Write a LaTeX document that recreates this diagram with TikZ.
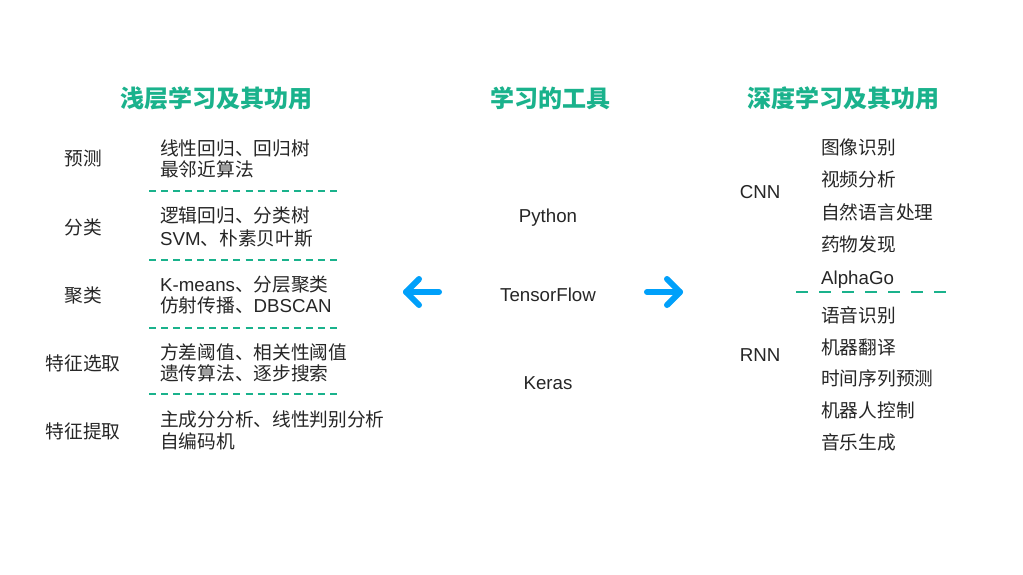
\documentclass[tikz,border=0pt]{standalone}
\usepackage{fontspec}
\setmainfont{Liberation Sans}
\newfontfamily\cjk{Noto Sans CJK SC}
\definecolor{tgreen}{RGB}{26,178,140}
\definecolor{txt}{RGB}{38,38,38}
\definecolor{ablue}{RGB}{0,160,250}
\begin{document}
\begin{tikzpicture}[x=1pt,y=-1pt,
  title/.style={font=\cjk\bfseries\fontsize{24}{28}\selectfont, text=tgreen, anchor=base, inner sep=0pt},
  cat/.style={font=\cjk\fontsize{18.7}{22}\selectfont, text=txt, anchor=base, inner sep=0pt},
  item/.style={cat, anchor=base west},
  lat/.style={font=\fontsize{18.7}{22}\selectfont, text=txt, anchor=base, inner sep=0pt},
  sepl/.style={draw=tgreen, line width=1.3pt, dash pattern=on 7pt off 5.07pt},
  sepr/.style={draw=tgreen, line width=1.3pt, dash pattern=on 11.5pt off 11.58pt},
  bigarrow/.style={draw=ablue, line width=6pt, line cap=round, line join=round}
]
\useasboundingbox[fill=white] (0,0) rectangle (1023,574);

% titles
\node[title] (t1) at (216,107) {浅层学习及其功用};
\node[title] (t2) at (550,107) {学习的工具};
\node[title] (t3) at (843,107) {深度学习及其功用};

% left column
\node[cat] (c1) at (83,165) {预测};
\node[cat] (c2) at (83,234) {分类};
\node[cat] (c3) at (83,302) {聚类};
\node[cat] (c4) at (83,370) {特征选取};
\node[cat] (c5) at (83,438) {特征提取};

\node[item] (a1) at (160,155) {线性回归、回归树};
\node[item] (a2) at (160,176) {最邻近算法};
\node[item] (b1) at (160,222) {逻辑回归、分类树};
\node[item] (b2) at (160,245) {{\rmfamily SVM}、朴素贝叶斯};
\node[item] (d1) at (160,291) {{\rmfamily K-means}、分层聚类};
\node[item] (d2) at (160,312) {仿射传播、{\rmfamily DBSCAN}};
\node[item] (e1) at (160,359) {方差阈值、相关性阈值};
\node[item] (e2) at (160,380) {遗传算法、逐步搜索};
\node[item] (f1) at (160,426) {主成分分析、线性判别分析};
\node[item] (f2) at (160,448) {自编码机};

\coordinate (s1a) at (149,191); \coordinate (s1b) at (337,191);
\coordinate (s2a) at (149,260); \coordinate (s2b) at (337,260);
\coordinate (s3a) at (149,328); \coordinate (s3b) at (337,328);
\coordinate (s4a) at (149,394); \coordinate (s4b) at (337,394);
\draw[sepl] (s1a) -- (s1b);
\draw[sepl] (s2a) -- (s2b);
\draw[sepl] (s3a) -- (s3b);
\draw[sepl] (s4a) -- (s4b);

% middle
\node[lat] (py) at (548,222) {Python};
\node[lat] (tf) at (548,301) {TensorFlow};
\node[lat] (ke) at (548,389) {Keras};

% arrows
\coordinate (lt) at (406,292); \coordinate (ls) at (439,292);
\coordinate (lu) at (419,279); \coordinate (ld) at (419,305);
\draw[bigarrow] (ls) -- (lt);
\draw[bigarrow] (lu) -- (lt) -- (ld);
\coordinate (rt) at (680,292); \coordinate (rs) at (647,292);
\coordinate (ru) at (667,279); \coordinate (rd) at (667,305);
\draw[bigarrow] (rs) -- (rt);
\draw[bigarrow] (ru) -- (rt) -- (rd);

% right column
\node[lat] (cnn) at (760,198) {CNN};
\node[lat] (rnn) at (760,361) {RNN};

\node[item] (g1) at (821,154) {图像识别};
\node[item] (g2) at (821,186) {视频分析};
\node[item] (g3) at (821,219) {自然语言处理};
\node[item] (g4) at (821,251) {药物发现};
\node[item, font=\fontsize{18.7}{22}\selectfont] (g5) at (821,284) {AlphaGo};
\coordinate (s5a) at (796,292); \coordinate (s5b) at (946,292);
\draw[sepr] (s5a) -- (s5b);
\node[item] (h1) at (821,322) {语音识别};
\node[item] (h2) at (821,354) {机器翻译};
\node[item] (h3) at (821,385) {时间序列预测};
\node[item] (h4) at (821,417) {机器人控制};
\node[item] (h5) at (821,449) {音乐生成};
\end{tikzpicture}
\end{document}
